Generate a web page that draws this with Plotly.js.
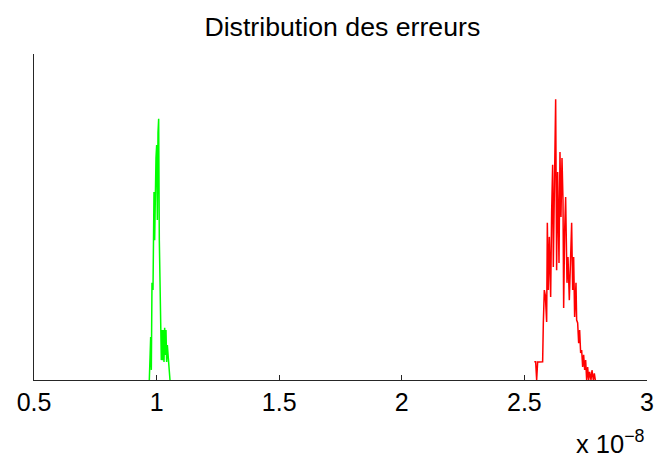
<!DOCTYPE html>
<html>
<head>
<meta charset="utf-8">
<script src="https://cdn.plot.ly/plotly-3.0.1.min.js"></script>
<style>html,body{margin:0;padding:0;background:#fff;}#chart{width:656px;height:462px;}</style>
</head>
<body>
<div id="chart"></div>
<script>
// Error values in units of 1e-8, relative frequency (normalised histogram heights)
const greenX = [0.9703, 0.9758, 0.9785, 0.9812, 0.9853, 0.9894, 0.9921, 0.9948, 0.9975, 1.0003, 1.0030, 1.0057, 1.0084, 1.0111, 1.0138, 1.0166, 1.0193, 1.0220, 1.0247, 1.0274, 1.0302, 1.0329, 1.0356, 1.0383, 1.0410, 1.0438, 1.0478, 1.0519, 1.0546];
const greenY = [0, 0.132, 0.031, 0.298, 0.276, 0.577, 0.429, 0.583, 0.681, 0.721, 0.491, 0.758, 0.801, 0.429, 0.307, 0.153, 0.061, 0.153, 0.061, 0.153, 0.055, 0.160, 0.077, 0.153, 0.055, 0.107, 0.055, 0, 0];

const redX = [2.5405, 2.5459, 2.5500, 2.5540, 2.5608, 2.5676, 2.5744, 2.5772, 2.5812, 2.5853, 2.5908, 2.5935, 2.5976, 2.6016, 2.6071, 2.6111, 2.6152, 2.6179, 2.6220, 2.6275, 2.6315, 2.6356, 2.6411, 2.6451, 2.6492, 2.6533, 2.6574, 2.6601, 2.6642, 2.6682, 2.6737, 2.6778, 2.6832, 2.6886, 2.6927, 2.6968, 2.7009, 2.7049, 2.7104, 2.7131, 2.7172, 2.7213, 2.7253, 2.7294, 2.7335, 2.7376, 2.7416, 2.7457, 2.7498, 2.7539, 2.7580, 2.7620, 2.7661, 2.7716, 2.7756, 2.7811, 2.7852, 2.7892];
const redY = [0.056, 0.056, 0, 0.055, 0.055, 0.055, 0.056, 0.175, 0.276, 0.260, 0.178, 0.482, 0.276, 0.439, 0.255, 0.515, 0.660, 0.347, 0.521, 0.861, 0.337, 0.638, 0.359, 0.699, 0.500, 0.681, 0.552, 0.221, 0.460, 0.561, 0.298, 0.377, 0.245, 0.383, 0.482, 0.276, 0.377, 0.193, 0.298, 0.184, 0.175, 0.113, 0.153, 0.083, 0.092, 0.040, 0.077, 0.031, 0.061, 0, 0.040, 0, 0.025, 0, 0.030, 0, 0.020, 0];

const xTicks = [0.5, 1, 1.5, 2, 2.5, 3];
const xTickLabels = ['0.5', '1', '1.5', '2', '2.5', '3'];
const titleText = 'Distribution des erreurs';
const exponentText = 'x 10<sup>\u22128</sup>';

const font = 'Liberation Sans, Arial, Helvetica, sans-serif';

const traces = [
  {x: greenX, y: greenY, type: 'scatter', mode: 'lines', line: {color: '#00ff00', width: 1.5}, hoverinfo: 'skip'},
  {x: redX, y: redY, type: 'scatter', mode: 'lines', line: {color: '#ff0000', width: 1.5}, hoverinfo: 'skip'}
];

const layout = {
  width: 656, height: 462,
  margin: {l: 34, r: 9, t: 54, b: 82, pad: 0},
  paper_bgcolor: '#ffffff', plot_bgcolor: '#ffffff',
  showlegend: false,
  font: {family: font, color: '#000000', size: 25},
  title: {text: titleText, font: {family: font, size: 26.7, color: '#000000'}, x: 0.503, xanchor: 'center', y: 0.942, yanchor: 'middle', xref: 'paper'},
  xaxis: {
    range: [0.5, 3], tickvals: xTicks, ticktext: xTickLabels,
    ticks: 'inside', ticklen: 5, tickwidth: 1, tickcolor: '#262626',
    showline: true, linecolor: '#262626', linewidth: 1.2,
    showgrid: false, zeroline: false,
    tickfont: {family: font, size: 25, color: '#000000'},
    mirror: false
  },
  yaxis: {
    range: [0, 1], showticklabels: false, ticks: '',
    showline: true, linecolor: '#262626', linewidth: 1.2,
    showgrid: false, zeroline: false
  },
  annotations: [{
    text: exponentText, xref: 'paper', yref: 'paper', x: 1.0, y: -0.19,
    xanchor: 'right', yanchor: 'middle', showarrow: false,
    font: {family: font, size: 25.5, color: '#000000'}
  }]
};

Plotly.newPlot('chart', traces, layout, {staticPlot: true, displayModeBar: false});
</script>
</body>
</html>
